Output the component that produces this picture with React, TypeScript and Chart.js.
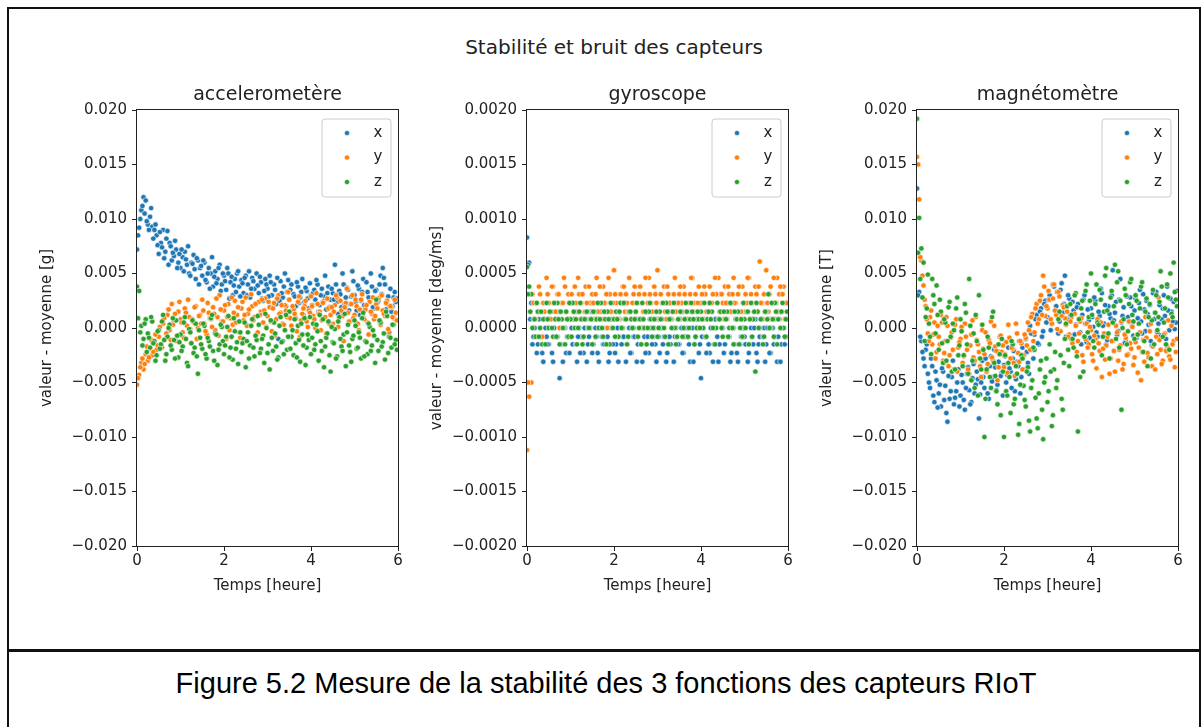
import React, { useEffect, useRef } from 'react';
import { Chart, registerables } from 'chart.js';

Chart.register(...registerables);

// ---------- data ----------
// two interleaved sampling grids (hours)
const timesA = [
  0, 0.05, 0.1, 0.15, 0.2, 0.25, 0.3, 0.35, 0.4, 0.45,
  0.5, 0.55, 0.6, 0.65, 0.7, 0.75, 0.8, 0.85, 0.9, 0.95,
  1, 1.05, 1.1, 1.15, 1.2, 1.25, 1.3, 1.35, 1.4, 1.45,
  1.5, 1.55, 1.6, 1.65, 1.7, 1.75, 1.8, 1.85, 1.9, 1.95,
  2, 2.05, 2.1, 2.15, 2.2, 2.25, 2.3, 2.35, 2.4, 2.45,
  2.5, 2.55, 2.6, 2.65, 2.7, 2.75, 2.8, 2.85, 2.9, 2.95,
  3, 3.05, 3.1, 3.15, 3.2, 3.25, 3.3, 3.35, 3.4, 3.45,
  3.5, 3.55, 3.6, 3.65, 3.7, 3.75, 3.8, 3.85, 3.9, 3.95,
  4, 4.05, 4.1, 4.15, 4.2, 4.25, 4.3, 4.35, 4.4, 4.45,
  4.5, 4.55, 4.6, 4.65, 4.7, 4.75, 4.8, 4.85, 4.9, 4.95,
  5, 5.05, 5.1, 5.15, 5.2, 5.25, 5.3, 5.35, 5.4, 5.45,
  5.5, 5.55, 5.6, 5.65, 5.7, 5.75, 5.8, 5.85, 5.9, 5.95,
];
const timesB = [
  0.025, 0.075, 0.125, 0.175, 0.225, 0.275, 0.325, 0.375, 0.425, 0.475,
  0.525, 0.575, 0.625, 0.675, 0.725, 0.775, 0.825, 0.875, 0.925, 0.975,
  1.025, 1.075, 1.125, 1.175, 1.225, 1.275, 1.325, 1.375, 1.425, 1.475,
  1.525, 1.575, 1.625, 1.675, 1.725, 1.775, 1.825, 1.875, 1.925, 1.975,
  2.025, 2.075, 2.125, 2.175, 2.225, 2.275, 2.325, 2.375, 2.425, 2.475,
  2.525, 2.575, 2.625, 2.675, 2.725, 2.775, 2.825, 2.875, 2.925, 2.975,
  3.025, 3.075, 3.125, 3.175, 3.225, 3.275, 3.325, 3.375, 3.425, 3.475,
  3.525, 3.575, 3.625, 3.675, 3.725, 3.775, 3.825, 3.875, 3.925, 3.975,
  4.025, 4.075, 4.125, 4.175, 4.225, 4.275, 4.325, 4.375, 4.425, 4.475,
  4.525, 4.575, 4.625, 4.675, 4.725, 4.775, 4.825, 4.875, 4.925, 4.975,
  5.025, 5.075, 5.125, 5.175, 5.225, 5.275, 5.325, 5.375, 5.425, 5.475,
  5.525, 5.575, 5.625, 5.675, 5.725, 5.775, 5.825, 5.875, 5.925, 5.975,
];

// accelerometer [g]
const accelXa = [
  0.0072, 0.0092, 0.0108, 0.0120, 0.0117, 0.0095, 0.0102, 0.0093, 0.0090, 0.0085,
  0.0068, 0.0078, 0.0090, 0.0070, 0.0089, 0.0078, 0.0062, 0.0066, 0.0072, 0.0060,
  0.0055, 0.0065, 0.0070, 0.0058, 0.0050, 0.0060, 0.0067, 0.0045, 0.0062, 0.0055,
  0.0048, 0.0060, 0.0042, 0.0055, 0.0050, 0.0038, 0.0052, 0.0045, 0.0058, 0.0040,
  0.0048, 0.0035, 0.0050, 0.0042, 0.0030, 0.0045, 0.0050, 0.0038, 0.0044, 0.0032,
  0.0048, 0.0040, 0.0028, 0.0046, 0.0036, 0.0050, 0.0032, 0.0042, 0.0025, 0.0045,
  0.0036, 0.0048, 0.0030, 0.0040, 0.0022, -0.0010, 0.0043, 0.0028, 0.0050, 0.0033,
  0.0026, 0.0040, 0.0031, 0.0020, 0.0038, 0.0028, 0.0045, 0.0024, 0.0034, 0.0018,
  0.0030, 0.0032, 0.0026, 0.0040, 0.0021, 0.0036, 0.0029, 0.0017, 0.0038, 0.0026,
  0.0032, 0.0058, 0.0024, 0.0034, 0.0019, 0.0040, 0.0028, 0.0035, 0.0022, 0.0052,
  0.0030, 0.0016, 0.0036, 0.0025, 0.0045, 0.0020, 0.0033, 0.0027, 0.0038, 0.0018,
  0.0035, 0.0025, 0.0048, 0.0055, 0.0040, 0.0022, -0.0008, 0.0015, 0.0028, 0.0024,
];
const accelXb = [
  0.0085, 0.0100, 0.0112, 0.0105, 0.0098, 0.0090, 0.0110, 0.0082, 0.0095, 0.0076,
  0.0088, 0.0074, 0.0064, 0.0082, 0.0058, 0.0075, 0.0069, 0.0080, 0.0055, 0.0068,
  0.0072, 0.0052, 0.0063, 0.0075, 0.0048, 0.0059, 0.0054, 0.0064, 0.0040, 0.0057,
  0.0062, 0.0044, 0.0050, 0.0036, 0.0065, 0.0047, 0.0041, 0.0055, 0.0034, 0.0050,
  0.0043, 0.0055, 0.0027, 0.0047, 0.0039, 0.0033, 0.0052, 0.0029, 0.0041, 0.0046,
  0.0030, 0.0052, 0.0036, 0.0043, 0.0022, 0.0039, 0.0047, 0.0027, 0.0034, 0.0040,
  0.0029, 0.0042, 0.0019, 0.0035, 0.0046, 0.0025, 0.0032, 0.0038, 0.0020, 0.0044,
  0.0035, 0.0016, 0.0029, 0.0042, 0.0023, 0.0033, 0.0012, 0.0037, 0.0027, 0.0041,
  0.0021, 0.0035, 0.0044, 0.0015, 0.0030, 0.0024, 0.0048, 0.0032, 0.0019, 0.0036,
  0.0026, 0.0040, 0.0013, 0.0031, 0.0050, 0.0022, 0.0037, 0.0016, 0.0029, 0.0043,
  0.0024, 0.0039, 0.0012, 0.0033, 0.0021, 0.0042, 0.0028, 0.0050, 0.0019, 0.0034,
  0.0023, 0.0040, 0.0031, 0.0046, 0.0017, 0.0029, 0.0036, 0.0020, 0.0033, 0.0027,
];
const accelYa = [
  -0.0052, -0.0043, -0.0032, -0.0038, -0.0024, -0.0030, -0.0019, -0.0025, -0.0014, -0.0020,
  -0.0008, -0.0015, 0.0004, -0.0010, 0.0012, -0.0002, 0.0022, 0.0006, -0.0012, 0.0015,
  0.0008, -0.0004, 0.0018, 0.0002, 0.0010, -0.0014, 0.0005, 0.0020, 0.0000, 0.0012,
  0.0026, 0.0004, -0.0006, 0.0014, 0.0008, 0.0019, -0.0002, 0.0010, 0.0030, 0.0006,
  0.0016, -0.0010, 0.0022, 0.0009, 0.0003, 0.0025, 0.0012, -0.0004, 0.0018, 0.0007,
  0.0028, 0.0013, 0.0002, 0.0020, 0.0010, -0.0006, 0.0024, 0.0015, 0.0005, 0.0027,
  0.0011, 0.0019, -0.0003, 0.0023, 0.0008, 0.0030, 0.0014, 0.0004, 0.0021, 0.0010,
  0.0026, 0.0002, 0.0017, 0.0009, 0.0024, -0.0008, 0.0013, 0.0020, 0.0006, 0.0016,
  0.0029, 0.0011, 0.0000, 0.0022, 0.0015, 0.0007, 0.0025, -0.0005, 0.0018, 0.0012,
  0.0004, 0.0021, 0.0028, 0.0009, 0.0016, -0.0012, 0.0023, 0.0014, 0.0006, 0.0030,
  0.0012, 0.0020, -0.0002, 0.0026, 0.0010, 0.0017, 0.0005, 0.0024, 0.0013, 0.0008,
  0.0022, 0.0027, 0.0003, 0.0016, 0.0011, 0.0025, -0.0004, 0.0019, 0.0009, 0.0014,
];
const accelYb = [
  -0.0046, -0.0036, -0.0028, -0.0033, -0.0017, -0.0027, -0.0011, -0.0022, -0.0006, -0.0016,
  0.0001, -0.0018, 0.0009, -0.0005, 0.0017, -0.0011, 0.0003, 0.0013, -0.0007, 0.0024,
  0.0005, -0.0009, 0.0014, 0.0026, -0.0001, 0.0008, 0.0019, -0.0010, 0.0011, 0.0004,
  0.0016, -0.0003, 0.0023, 0.0009, 0.0001, 0.0013, 0.0027, -0.0007, 0.0017, 0.0006,
  0.0021, 0.0010, -0.0002, 0.0028, 0.0014, 0.0005, 0.0019, -0.0009, 0.0024, 0.0012,
  0.0002, 0.0017, 0.0031, 0.0007, 0.0022, -0.0004, 0.0012, 0.0026, 0.0016, 0.0001,
  0.0024, 0.0006, 0.0018, -0.0007, 0.0027, 0.0013, 0.0021, 0.0003, 0.0016, 0.0033,
  0.0009, 0.0020, 0.0013, -0.0003, 0.0029, 0.0007, 0.0018, 0.0025, 0.0001, 0.0014,
  0.0020, 0.0008, 0.0032, 0.0013, -0.0002, 0.0023, 0.0010, 0.0027, 0.0004, 0.0019,
  0.0015, 0.0030, 0.0001, 0.0025, 0.0011, 0.0019, 0.0036, 0.0006, 0.0022, 0.0009,
  0.0026, 0.0004, 0.0017, 0.0031, 0.0008, 0.0021, -0.0006, 0.0015, 0.0028, 0.0011,
  0.0018, 0.0006, 0.0030, 0.0013, 0.0023, -0.0001, 0.0020, 0.0010, 0.0026, 0.0007,
];
const accelZa = [
  0.0038, 0.0034, 0.0002, -0.0010, 0.0008, -0.0005, -0.0018, 0.0006, -0.0012, -0.0025,
  -0.0002, -0.0015, 0.0012, -0.0030, -0.0008, 0.0003, -0.0020, -0.0011, 0.0007, -0.0027,
  -0.0006, -0.0017, 0.0010, -0.0032, -0.0001, -0.0014, -0.0023, 0.0004, -0.0042, -0.0009,
  -0.0019, 0.0002, -0.0028, -0.0012, 0.0009, -0.0021, -0.0005, -0.0034, -0.0015, 0.0001,
  -0.0024, -0.0008, 0.0011, -0.0018, -0.0029, -0.0003, -0.0013, 0.0006, -0.0022, -0.0010,
  -0.0036, -0.0004, -0.0016, 0.0008, -0.0026, -0.0011, 0.0003, -0.0019, -0.0007, 0.0013,
  -0.0023, -0.0038, -0.0009, 0.0005, -0.0017, -0.0027, 0.0010, -0.0012, -0.0002, -0.0020,
  0.0015, -0.0008, -0.0025, -0.0014, 0.0002, -0.0031, -0.0006, 0.0009, -0.0018, -0.0011,
  -0.0024, 0.0004, -0.0015, -0.0003, 0.0012, -0.0021, -0.0036, -0.0009, 0.0006, -0.0040,
  -0.0013, -0.0001, -0.0026, 0.0010, -0.0017, -0.0006, -0.0035, 0.0003, -0.0022, -0.0010,
  0.0007, -0.0019, -0.0004, -0.0028, 0.0014, -0.0012, -0.0024, 0.0001, -0.0016, -0.0007,
  0.0026, -0.0021, 0.0005, -0.0013, -0.0029, 0.0011, -0.0008, -0.0018, 0.0003, -0.0011,
];
const accelZb = [
  0.0009, -0.0004, -0.0016, 0.0004, -0.0022, -0.0009, 0.0010, -0.0014, -0.0030, -0.0003,
  -0.0019, 0.0006, -0.0011, -0.0024, 0.0000, -0.0016, 0.0009, -0.0028, -0.0007, -0.0013,
  -0.0021, 0.0005, -0.0010, -0.0035, -0.0004, 0.0007, -0.0018, -0.0026, -0.0002, -0.0015,
  0.0004, -0.0024, -0.0009, -0.0017, 0.0012, -0.0030, -0.0006, -0.0020, 0.0003, -0.0012,
  -0.0016, 0.0001, -0.0027, -0.0008, 0.0009, -0.0019, -0.0033, -0.0004, -0.0014, 0.0005,
  -0.0012, -0.0028, 0.0002, -0.0018, -0.0007, 0.0011, -0.0023, -0.0010, -0.0032, 0.0000,
  -0.0015, 0.0007, -0.0021, -0.0005, -0.0029, 0.0002, -0.0013, -0.0024, 0.0012, -0.0008,
  -0.0019, -0.0002, 0.0008, -0.0027, -0.0011, 0.0004, -0.0016, -0.0034, -0.0006, 0.0010,
  -0.0009, -0.0020, 0.0003, -0.0030, -0.0012, 0.0008, -0.0017, -0.0005, -0.0025, 0.0001,
  -0.0014, -0.0028, 0.0006, -0.0010, -0.0021, 0.0013, -0.0004, -0.0016, -0.0031, -0.0007,
  0.0002, -0.0018, -0.0009, 0.0009, -0.0026, -0.0013, 0.0004, -0.0021, -0.0002, -0.0032,
  -0.0011, 0.0007, -0.0017, -0.0005, 0.0015, -0.0023, -0.0009, 0.0003, -0.0015, -0.0020,
];

// gyroscope [deg/ms]
const gyroXa = [
  0.00083, 0.00060, 0.00023, -0.00008, 0.00008, -0.00015, 0, -0.00023, 0.00008, -0.00008,
  -0.00015, 0, -0.00031, 0.00008, -0.00008, -0.00046, -0.00015, 0, -0.00023, 0.00008,
  -0.00008, -0.00015, 0.00015, -0.00031, 0, -0.00008, -0.00023, 0.00008, -0.00015, 0,
  -0.00023, 0.00008, -0.00008, -0.00031, 0, -0.00015, 0.00015, -0.00008, -0.00023, 0,
  0.00008, -0.00015, -0.00031, 0, -0.00008, 0.00023, -0.00015, 0, -0.00023, -0.00008,
  0.00008, -0.00015, 0, -0.00031, -0.00008, 0.00015, -0.00023, 0, -0.00008, -0.00015,
  0.00008, -0.00023, 0, -0.00008, -0.00031, 0.00015, -0.00015, 0, -0.00008, 0.00023,
  -0.00015, 0, -0.00023, 0.00008, -0.00008, -0.00031, 0, -0.00015, 0.00008, -0.00023,
  -0.00046, 0, -0.00008, 0.00015, -0.00023, 0, -0.00015, 0.00008, -0.00031, 0.00031,
  0, -0.00015, 0.00023, -0.00008, -0.00023, 0, 0.00008, -0.00031, -0.00015, 0,
  -0.00008, 0.00015, -0.00023, 0, -0.00015, 0.00008, -0.00031, -0.00008, 0.00023, 0,
  -0.00015, 0.00008, -0.00023, 0, -0.00008, -0.00031, 0.00015, -0.00015, 0, -0.00008,
];
const gyroXb = [
  0.00058, 0.00008, -0.00015, 0, -0.00023, 0.00008, -0.00008, -0.00031, 0, -0.00015,
  0.00008, -0.00023, 0, -0.00008, 0.00015, -0.00015, -0.00031, 0, -0.00008, -0.00023,
  0, 0.00008, -0.00015, -0.00008, -0.00023, 0.00008, 0, -0.00031, -0.00008, 0.00015,
  -0.00015, 0, -0.00023, 0.00008, -0.00008, -0.00015, 0, -0.00031, 0.00008, -0.00015,
  -0.00023, 0, 0.00008, -0.00015, -0.00008, -0.00031, 0.00015, -0.00023, 0, -0.00008,
  -0.00031, 0.00008, -0.00015, 0, -0.00023, -0.00008, 0.00008, -0.00015, 0, -0.00031,
  -0.00008, 0, -0.00015, 0.00023, -0.00023, -0.00008, 0.00008, -0.00031, 0, -0.00015,
  0.00008, -0.00023, -0.00008, 0, -0.00015, 0.00015, -0.00031, -0.00008, 0, -0.00015,
  -0.00008, 0.00008, -0.00023, -0.00015, 0, -0.00031, 0.00008, -0.00008, -0.00015, 0,
  -0.00023, 0.00008, -0.00008, -0.00031, 0, -0.00015, -0.00023, 0.00015, -0.00008, 0,
  -0.00015, -0.00031, 0.00008, -0.00008, 0, -0.00023, -0.00015, 0.00008, -0.00008, -0.00031,
  0, -0.00023, 0.00008, -0.00015, 0.00023, -0.00008, -0.00031, 0, -0.00015, 0.00008,
];
const gyroYa = [
  -0.00112, -0.00063, -0.00050, 0.00023, 0.00008, 0.00015, 0.00031, -0.00008, 0.00015, 0.00046,
  0.00023, 0.00008, 0.00038, 0.00015, 0.00031, 0, 0.00023, 0.00046, 0.00015, 0.00031,
  0.00008, 0.00023, 0.00038, 0.00015, 0.00031, 0.00023, -0.00008, 0.00038, 0.00015, 0.00023,
  0.00031, 0.00008, 0.00046, 0.00023, 0.00015, 0.00038, 0.00023, 0, 0.00031, 0.00015,
  0.00053, 0.00023, 0.00008, 0.00031, 0.00038, 0.00015, 0.00023, 0.00046, 0.00008, 0.00031,
  0.00015, 0.00023, 0.00038, 0, 0.00031, 0.00015, 0.00046, 0.00023, 0.00008, 0.00031,
  0.00053, 0.00015, 0.00023, 0.00038, 0.00008, 0.00031, 0.00023, 0.00015, 0.00046, -0.00008,
  0.00031, 0.00023, 0.00038, 0.00015, 0.00008, 0.00031, 0.00046, 0.00023, 0.00015, 0.00038,
  0.00023, 0.00008, 0.00031, 0.00015, 0.00038, 0.00023, 0, 0.00031, 0.00046, 0.00015,
  0.00023, 0.00038, 0.00008, 0.00031, 0.00015, 0.00046, 0.00023, 0.00031, 0.00008, 0.00038,
  0.00015, 0.00023, 0.00046, 0.00031, 0.00008, 0.00038, 0.00015, 0.00061, 0.00023, 0.00031,
  0.00053, 0.00015, 0.00038, 0.00023, 0.00008, 0.00046, 0.00031, 0.00015, 0.00038, 0.00023,
];
const gyroYb = [
  -0.00050, 0.00015, 0.00031, 0.00008, 0.00023, 0.00038, 0.00015, 0.00023, 0.00008, 0.00031,
  0.00015, 0.00038, 0.00023, 0.00008, 0.00031, 0.00015, 0.00023, 0.00038, 0.00008, 0.00023,
  0.00031, 0.00015, 0.00023, 0.00046, 0.00008, 0.00031, 0.00015, 0.00023, 0.00038, 0.00008,
  0.00023, 0.00031, 0.00015, 0.00038, 0.00008, 0.00023, 0.00031, 0.00046, 0.00015, 0.00023,
  0.00031, 0.00008, 0.00015, 0.00023, 0.00038, 0.00031, 0.00015, 0.00008, 0.00023, 0.00038,
  0.00023, 0.00031, 0.00008, 0.00015, 0.00046, 0.00023, 0.00031, 0.00015, 0.00038, 0.00023,
  0.00008, 0.00031, 0.00023, 0.00015, 0.00038, 0.00023, 0.00008, 0.00031, 0.00015, 0.00023,
  0.00038, 0.00015, 0.00031, 0.00008, 0.00023, 0.00046, 0.00015, 0.00031, 0.00023, 0.00008,
  0.00031, 0.00038, 0.00015, 0.00023, 0.00008, 0.00031, 0.00046, 0.00023, 0.00015, 0.00031,
  0.00008, 0.00023, 0.00038, 0.00015, 0.00031, 0.00023, 0.00008, 0.00038, 0.00015, 0.00023,
  0.00031, 0.00046, 0.00008, 0.00023, 0.00015, 0.00031, 0.00038, 0.00023, 0.00008, 0.00015,
  0.00023, 0.00031, 0.00008, 0.00046, 0.00023, 0.00015, 0.00038, 0.00031, 0.00008, 0.00023,
];
const gyroZa = [
  0.00056, 0.00038, 0.00031, 0.00008, -0.00008, 0.00015, 0, -0.00015, 0.00008, 0.00023,
  0, 0.00015, -0.00008, 0.00008, 0.00023, -0.00015, 0.00008, 0, 0.00015, -0.00008,
  0.00008, 0.00023, 0, -0.00015, 0.00015, 0.00008, -0.00008, 0.00015, 0, 0.00008,
  -0.00015, 0.00015, 0.00008, 0, 0.00023, -0.00008, 0.00008, 0.00015, -0.00015, 0,
  0.00008, 0.00015, -0.00008, 0.00023, 0, 0.00008, -0.00015, 0.00015, 0.00008, 0,
  0.00015, -0.00008, 0.00008, 0.00023, 0, -0.00015, 0.00015, 0.00008, 0, 0.00008,
  -0.00008, 0.00015, 0.00008, 0, 0.00023, -0.00015, 0.00008, 0.00015, 0, -0.00008,
  0.00008, 0.00015, 0, 0.00023, -0.00008, 0.00008, 0.00015, -0.00015, 0, 0.00008,
  0.00015, 0, -0.00008, 0.00008, 0.00023, 0.00015, -0.00015, 0, 0.00008, 0.00015,
  -0.00008, 0.00008, 0.00015, 0, 0.00023, -0.00015, 0.00008, 0.00015, 0, -0.00008,
  0.00008, 0.00015, -0.00015, 0.00023, 0.00008, -0.00040, 0.00015, 0, 0.00008, -0.00008,
  0.00015, 0.00031, 0, 0.00008, 0.00023, -0.00015, 0.00008, 0.00015, 0, 0.00008,
];
const gyroZb = [
  0.00031, 0.00015, 0, 0.00008, 0.00023, -0.00008, 0.00015, 0.00008, -0.00015, 0.00008,
  0.00015, 0, 0.00023, -0.00008, 0.00008, 0.00015, 0, -0.00015, 0.00008, 0.00023,
  -0.00008, 0.00015, 0.00008, 0, 0.00023, -0.00015, 0.00008, 0.00015, 0, 0.00008,
  0.00015, -0.00008, 0.00023, 0.00008, 0, 0.00015, -0.00015, 0.00008, 0.00023, 0,
  -0.00008, 0.00008, 0.00015, 0, 0.00023, 0.00008, -0.00008, 0.00015, 0, 0.00008,
  0.00023, 0, -0.00015, 0.00008, 0.00015, 0, 0.00023, -0.00008, 0.00008, 0.00015,
  0, 0.00008, 0.00023, -0.00008, 0.00015, 0.00008, 0, 0.00023, -0.00015, 0.00008,
  0.00015, -0.00008, 0.00008, 0.00015, 0, 0.00023, 0.00008, -0.00008, 0.00015, 0,
  0.00008, 0.00023, -0.00008, 0.00015, 0.00008, 0, -0.00015, 0.00023, 0.00008, 0,
  0.00015, 0.00008, -0.00008, 0.00023, 0, 0.00015, 0.00008, -0.00015, 0.00008, 0.00023,
  0, 0.00015, 0.00008, -0.00008, 0.00015, 0.00023, 0, 0.00008, -0.00015, 0.00015,
  0.00008, 0, 0.00023, -0.00008, 0.00015, 0.00008, 0, 0.00023, -0.00008, 0.00015,
];

// magnetometer [T]
const magXa = [
  0.0128, 0.0033, -0.0012, -0.0028, -0.0020, -0.0042, -0.0055, -0.0035, -0.0068, -0.0048,
  -0.0060, -0.0072, -0.0040, -0.0053, -0.0086, -0.0065, -0.0045, -0.0070, -0.0058, -0.0038,
  -0.0062, -0.0050, -0.0075, -0.0042, -0.0057, -0.0068, -0.0033, -0.0052, -0.0047, -0.0061,
  -0.0030, -0.0055, -0.0040, -0.0065, -0.0026, -0.0045, -0.0036, -0.0052, -0.0022, -0.0041,
  -0.0034, -0.0050, -0.0018, -0.0040, -0.0028, -0.0058, -0.0031, -0.0012, -0.0045, -0.0025,
  -0.0010, -0.0032, 0.0002, -0.0020, -0.0006, 0.0012, -0.0015, 0.0018, -0.0003, 0.0025,
  0.0010, 0.0030, 0.0004, 0.0038, 0.0020, -0.0005, 0.0035, 0.0014, 0.0048, 0.0008,
  0.0027, -0.0010, 0.0016, 0.0003, 0.0022, -0.0004, 0.0012, 0.0030, -0.0013, 0.0007,
  0.0018, 0.0001, 0.0025, -0.0008, 0.0011, 0.0032, 0.0004, -0.0015, 0.0020, 0.0009,
  0.0053, 0.0014, -0.0006, 0.0026, 0.0005, 0.0019, -0.0012, 0.0010, 0.0028, 0.0002,
  0.0016, -0.0009, 0.0023, 0.0006, 0.0031, -0.0003, 0.0013, 0.0021, -0.0016, 0.0008,
  0.0033, 0.0004, -0.0007, 0.0018, 0.0011, 0.0038, -0.0002, 0.0015, 0.0024, 0.0005,
];
const magXb = [
  0.0030, -0.0008, -0.0022, -0.0035, -0.0015, -0.0050, -0.0028, -0.0062, -0.0040, -0.0073,
  -0.0052, -0.0037, -0.0066, -0.0078, -0.0044, -0.0058, -0.0030, -0.0064, -0.0050, -0.0072,
  -0.0043, -0.0066, -0.0055, -0.0036, -0.0070, -0.0046, -0.0060, -0.0040, -0.0083, -0.0050,
  -0.0045, -0.0028, -0.0060, -0.0035, -0.0049, -0.0020, -0.0057, -0.0031, -0.0044, -0.0062,
  -0.0026, -0.0043, -0.0037, -0.0055, -0.0021, -0.0047, -0.0035, -0.0060, -0.0018, -0.0038,
  -0.0022, -0.0042, -0.0005, -0.0028, 0.0008, -0.0014, 0.0015, -0.0008, 0.0022, 0.0005,
  0.0026, -0.0002, 0.0040, 0.0016, 0.0033, 0.0006, 0.0041, 0.0022, -0.0008, 0.0030,
  0.0012, 0.0024, -0.0006, 0.0019, 0.0008, -0.0015, 0.0026, 0.0004, 0.0017, -0.0009,
  0.0010, 0.0028, -0.0004, 0.0015, 0.0036, 0.0002, 0.0021, -0.0011, 0.0013, 0.0030,
  0.0007, 0.0024, -0.0003, 0.0045, 0.0011, -0.0014, 0.0029, 0.0006, 0.0020, -0.0007,
  0.0027, 0.0009, 0.0035, -0.0005, 0.0017, 0.0025, 0.0003, -0.0012, 0.0032, 0.0014,
  -0.0004, 0.0021, 0.0008, 0.0030, -0.0010, 0.0016, 0.0027, 0.0006, -0.0001, 0.0034,
];
const magYa = [
  0.0157, 0.0118, 0.0062, 0.0039, 0.0020, -0.0005, 0.0010, -0.0015, 0.0005, -0.0022,
  -0.0008, 0.0012, -0.0030, -0.0012, 0.0002, -0.0025, -0.0004, -0.0038, 0.0008, -0.0018,
  -0.0010, -0.0032, 0.0004, -0.0020, -0.0042, -0.0006, -0.0027, 0.0010, -0.0015, -0.0035,
  -0.0002, -0.0024, -0.0040, -0.0011, 0.0006, -0.0030, -0.0017, -0.0048, -0.0008, -0.0022,
  -0.0036, -0.0013, 0.0003, -0.0028, -0.0019, -0.0044, -0.0005, -0.0031, -0.0014, -0.0025,
  -0.0009, 0.0005, -0.0020, 0.0013, -0.0004, 0.0022, 0.0008, 0.0030, 0.0048, 0.0011,
  0.0018, 0.0026, 0.0004, 0.0040, 0.0012, 0.0033, -0.0003, 0.0021, 0.0009, 0.0015,
  -0.0006, 0.0010, -0.0018, 0.0002, -0.0012, 0.0006, -0.0025, -0.0008, 0.0004, -0.0015,
  -0.0002, -0.0030, -0.0010, 0.0008, -0.0021, -0.0045, -0.0005, -0.0016, 0.0003, -0.0028,
  -0.0012, -0.0040, -0.0004, -0.0020, 0.0006, -0.0033, -0.0009, -0.0024, -0.0014, 0.0001,
  -0.0027, -0.0007, -0.0018, -0.0048, -0.0011, 0.0010, -0.0023, -0.0003, -0.0035, -0.0015,
  -0.0008, 0.0028, -0.0020, -0.0030, -0.0005, -0.0017, -0.0026, 0.0002, -0.0012, -0.0022,
];
const magYb = [
  0.0150, 0.0065, 0.0048, 0.0026, 0.0008, -0.0012, 0.0016, -0.0006, -0.0028, 0.0002,
  -0.0015, 0.0005, -0.0023, 0.0010, -0.0035, -0.0009, -0.0020, 0.0003, -0.0040, -0.0013,
  0.0001, -0.0026, -0.0008, -0.0038, -0.0016, 0.0007, -0.0030, -0.0011, -0.0022, -0.0045,
  -0.0019, -0.0004, -0.0033, -0.0014, -0.0027, 0.0002, -0.0021, -0.0036, -0.0007, -0.0016,
  -0.0024, -0.0041, -0.0009, -0.0018, -0.0032, 0.0004, -0.0023, -0.0012, -0.0038, -0.0006,
  -0.0016, -0.0002, 0.0010, -0.0012, 0.0018, 0.0004, 0.0025, 0.0012, 0.0038, 0.0020,
  0.0034, 0.0008, 0.0027, 0.0016, -0.0001, 0.0029, 0.0011, 0.0019, 0.0003, -0.0008,
  0.0006, -0.0014, 0.0013, -0.0022, -0.0005, 0.0009, -0.0031, -0.0010, -0.0018, 0.0001,
  -0.0024, -0.0007, -0.0037, -0.0014, 0.0005, -0.0019, -0.0029, -0.0008, -0.0042, -0.0012,
  -0.0021, 0.0002, -0.0030, -0.0016, -0.0038, -0.0006, -0.0025, 0.0006, -0.0019, -0.0034,
  -0.0013, -0.0041, -0.0004, -0.0022, -0.0031, -0.0009, -0.0027, 0.0004, -0.0017, -0.0038,
  -0.0024, -0.0011, -0.0033, -0.0006, -0.0021, 0.0007, -0.0029, -0.0015, -0.0036, -0.0010,
];
const magZa = [
  0.0192, 0.0101, 0.0073, 0.0060, 0.0010, 0.0049, -0.0008, 0.0045, 0.0022, 0.0039,
  -0.0020, 0.0015, -0.0032, 0.0005, -0.0012, 0.0024, -0.0040, -0.0002, 0.0018, -0.0025,
  0.0008, -0.0035, 0.0022, -0.0015, 0.0045, -0.0048, -0.0005, 0.0012, -0.0062, -0.0028,
  0.0003, -0.0100, -0.0038, -0.0018, -0.0055, 0.0015, -0.0044, -0.0070, -0.0024, -0.0010,
  -0.0100, -0.0058, -0.0032, -0.0078, -0.0015, -0.0065, -0.0042, -0.0088, -0.0025, -0.0053,
  -0.0072, -0.0036, -0.0095, -0.0048, -0.0020, -0.0083, -0.0060, -0.0030, -0.0102, -0.0045,
  -0.0068, -0.0015, -0.0090, -0.0038, -0.0055, 0.0008, -0.0025, -0.0075, -0.0010, 0.0020,
  -0.0035, 0.0012, -0.0018, 0.0032, -0.0095, -0.0045, 0.0025, -0.0008, 0.0040, 0.0010,
  0.0050, -0.0012, 0.0022, 0.0005, 0.0035, -0.0025, 0.0015, 0.0055, -0.0005, 0.0028,
  0.0005, 0.0058, 0.0042, -0.0018, -0.0075, 0.0008, 0.0030, -0.0003, 0.0042, 0.0012,
  -0.0010, 0.0025, 0.0004, 0.0038, -0.0022, 0.0015, -0.0035, 0.0022, 0.0007, -0.0015,
  0.0030, 0.0010, 0.0052, -0.0008, 0.0018, 0.0040, -0.0020, 0.0013, 0.0060, 0.0026,
];
const magZb = [
  0.0069, 0.0045, 0.0028, -0.0012, 0.0018, 0.0004, -0.0024, 0.0030, -0.0005, 0.0012,
  0.0026, -0.0014, 0.0008, -0.0030, 0.0019, -0.0008, 0.0004, -0.0038, 0.0028, -0.0016,
  -0.0003, -0.0025, 0.0014, -0.0042, 0.0002, -0.0030, -0.0055, -0.0012, 0.0030, -0.0038,
  -0.0020, -0.0065, -0.0008, -0.0045, 0.0010, -0.0032, -0.0058, -0.0015, -0.0080, -0.0040,
  -0.0025, -0.0062, -0.0045, -0.0012, -0.0070, -0.0035, -0.0098, -0.0052, -0.0028, -0.0066,
  -0.0040, -0.0085, -0.0055, -0.0018, -0.0064, -0.0092, -0.0038, -0.0075, -0.0050, -0.0028,
  -0.0058, -0.0040, -0.0080, -0.0022, -0.0048, 0.0015, -0.0065, -0.0032, 0.0004, -0.0020,
  0.0022, -0.0010, 0.0030, -0.0026, 0.0008, 0.0018, -0.0040, 0.0034, -0.0004, 0.0025,
  0.0012, -0.0018, 0.0040, 0.0003, 0.0026, -0.0008, 0.0048, 0.0016, -0.0028, 0.0034,
  0.0020, -0.0010, 0.0052, 0.0025, 0.0000, 0.0036, -0.0015, 0.0022, 0.0045, 0.0006,
  0.0030, -0.0006, 0.0018, 0.0042, -0.0012, 0.0027, 0.0010, -0.0028, 0.0035, 0.0014,
  -0.0002, 0.0024, 0.0038, 0.0005, -0.0015, 0.0028, 0.0050, 0.0010, 0.0033, 0.0020,
];

const seriesNames = ['x', 'y', 'z'];
const seriesColors = ['#1f77b4', '#ff7f0e', '#2ca02c'];
const panelTitles = ['accelerometère', 'gyroscope', 'magnétomètre'];
const yAxisLabels = ['valeur - moyenne [g]', 'valeur - moyenne [deg/ms]', 'valeur - moyenne [T]'];
const xAxisLabel = 'Temps [heure]';
const xTickValues = [0, 2, 4, 6];
const accelTicks = [-0.02, -0.015, -0.01, -0.005, 0, 0.005, 0.01, 0.015, 0.02];
const gyroTicks = [-0.002, -0.0015, -0.001, -0.0005, 0, 0.0005, 0.001, 0.0015, 0.002];
const magTicks = [-0.02, -0.015, -0.01, -0.005, 0, 0.005, 0.01, 0.015, 0.02];
const tickDecimals = [3, 4, 3];
const suptitle = 'Stabilité et bruit des capteurs';
const caption = 'Figure 5.2 Mesure de la stabilité des 3 fonctions des capteurs RIoT';

const panelSeries = [
  [[accelXa, accelXb], [accelYa, accelYb], [accelZa, accelZb]],
  [[gyroXa, gyroXb], [gyroYa, gyroYb], [gyroZa, gyroZb]],
  [[magXa, magXb], [magYa, magYb], [magZa, magZb]],
];
const panelTicks = [accelTicks, gyroTicks, magTicks];

// ---------- layout ----------
const FONT = '"DejaVu Sans", sans-serif';
const TEXT = '#222222';
const LEFT_SPACE = 110;
const RIGHT_SPACE = 14;
const TOP_SPACE = 40;
const X_AXIS_H = 64;
const CANVAS_W = LEFT_SPACE + 261 + RIGHT_SPACE;
const CANVAS_H = TOP_SPACE + 436 + X_AXIS_H;
const plotLefts = [137, 527, 917];

const panelDecor = {
  id: 'panelDecor',
  afterDraw(chart: any, _args: any, opts: any) {
    const { ctx, chartArea: a } = chart;
    ctx.save();
    ctx.strokeStyle = TEXT;
    ctx.lineWidth = 1;
    ctx.strokeRect(Math.round(a.left) - 0.5, Math.round(a.top) - 0.5, Math.round(a.right - a.left) + 1, Math.round(a.bottom - a.top) + 1);
    ctx.fillStyle = TEXT;
    ctx.font = '19px ' + FONT;
    ctx.textAlign = 'center';
    ctx.textBaseline = 'alphabetic';
    ctx.fillText(opts.title, (a.left + a.right) / 2, a.top - 10);
    const bw = 69, bh = 78;
    const bx = a.right - 7 - bw, by = a.top + 9;
    const r = 3;
    ctx.beginPath();
    ctx.moveTo(bx + r, by);
    ctx.lineTo(bx + bw - r, by);
    ctx.quadraticCurveTo(bx + bw, by, bx + bw, by + r);
    ctx.lineTo(bx + bw, by + bh - r);
    ctx.quadraticCurveTo(bx + bw, by + bh, bx + bw - r, by + bh);
    ctx.lineTo(bx + r, by + bh);
    ctx.quadraticCurveTo(bx, by + bh, bx, by + bh - r);
    ctx.lineTo(bx, by + r);
    ctx.quadraticCurveTo(bx, by, bx + r, by);
    ctx.closePath();
    ctx.fillStyle = 'rgba(255,255,255,0.8)';
    ctx.fill();
    ctx.strokeStyle = '#cccccc';
    ctx.lineWidth = 1;
    ctx.stroke();
    seriesNames.forEach((name, s) => {
      const y = by + 14 + s * 24.5;
      ctx.beginPath();
      ctx.arc(bx + 25, y, 2.6, 0, Math.PI * 2);
      ctx.fillStyle = seriesColors[s];
      ctx.fill();
      ctx.strokeStyle = '#ffffff';
      ctx.lineWidth = 0.6;
      ctx.stroke();
      ctx.fillStyle = TEXT;
      ctx.font = '15px ' + FONT;
      ctx.textAlign = 'center';
      ctx.textBaseline = 'middle';
      ctx.fillText(name, bx + 56, y);
    });
    ctx.restore();
  },
};

function makeConfig(p: number): any {
  const ticks = panelTicks[p];
  const lim = ticks[ticks.length - 1];
  const dec = tickDecimals[p];
  const fmt = (v: number) => {
    const val = Math.abs(v) < lim * 1e-6 ? 0 : v;
    return val.toFixed(dec).replace('-', '\u2212');
  };
  const datasets = panelSeries[p].map(([va, vb], s) => ({
    label: seriesNames[s],
    data: va.map((v, i) => ({ x: timesA[i], y: v })).concat(vb.map((v, i) => ({ x: timesB[i], y: v }))),
    backgroundColor: seriesColors[s],
    borderColor: '#ffffff',
    borderWidth: 0.6,
    pointRadius: 2.7,
    pointHoverRadius: 2.7,
    order: 2 - s,
  }));
  const gridOpts = {
    display: true,
    drawOnChartArea: false,
    drawTicks: true,
    tickLength: 5,
    tickColor: TEXT,
    tickWidth: 1,
  };
  return {
    type: 'scatter',
    data: { datasets },
    plugins: [panelDecor],
    options: {
      animation: false,
      responsive: false,
      maintainAspectRatio: false,
      events: [],
      layout: { padding: { left: 0, right: RIGHT_SPACE, top: TOP_SPACE, bottom: 0 } },
      plugins: {
        legend: { display: false },
        tooltip: { enabled: false },
        title: { display: false },
        panelDecor: { title: panelTitles[p] },
      },
      scales: {
        x: {
          type: 'linear',
          position: 'bottom',
          min: 0,
          max: 6,
          afterBuildTicks: (s: any) => { s.ticks = xTickValues.map((v) => ({ value: v })); },
          afterFit: (s: any) => { s.height = X_AXIS_H; },
          ticks: { color: TEXT, font: { family: FONT, size: 15 }, padding: 1, maxRotation: 0, autoSkip: false, callback: (v: any) => String(v) },
          grid: gridOpts,
          border: { display: false },
          title: { display: true, text: xAxisLabel, color: TEXT, font: { family: FONT, size: 15 }, padding: { top: 0, bottom: 15 } },
        },
        y: {
          type: 'linear',
          position: 'left',
          min: -lim,
          max: lim,
          afterBuildTicks: (s: any) => { s.ticks = ticks.map((v) => ({ value: v })); },
          afterFit: (s: any) => { s.width = LEFT_SPACE; },
          ticks: { color: TEXT, font: { family: FONT, size: 15 }, padding: 5, autoSkip: false, callback: (v: any) => fmt(Number(v)) },
          grid: gridOpts,
          border: { display: false },
          title: { display: true, text: yAxisLabels[p], color: TEXT, font: { family: FONT, size: 15 }, padding: { top: 11, bottom: 0 } },
        },
      },
    },
  };
}

function Panel({ p }: { p: number }) {
  const ref = useRef<HTMLCanvasElement>(null);
  useEffect(() => {
    const chart = new Chart(ref.current as HTMLCanvasElement, makeConfig(p));
    return () => chart.destroy();
  }, [p]);
  return (
    <canvas
      ref={ref}
      width={CANVAS_W}
      height={CANVAS_H}
      style={{ position: 'absolute', left: plotLefts[p] - LEFT_SPACE, top: 70, width: CANVAS_W, height: CANVAS_H }}
    />
  );
}

export default function App() {
  return (
    <div style={{ position: 'absolute', left: 0, top: 0, width: 1204, height: 727, overflow: 'hidden', background: '#ffffff' }}>
      <div style={{ position: 'absolute', left: 7, top: 7, width: 1194, height: 800, border: '2px solid #111', boxSizing: 'border-box' }} />
      <div style={{ position: 'absolute', left: 7, top: 649, width: 1194, height: 3, background: '#111' }} />
      <div
        style={{
          position: 'absolute', left: 614, top: 35, transform: 'translateX(-50%)', whiteSpace: 'nowrap',
          fontFamily: FONT, fontSize: 20, lineHeight: 'normal', color: TEXT,
        }}
      >
        {suptitle}
      </div>
      {[0, 1, 2].map((p) => <Panel key={p} p={p} />)}
      <div
        style={{
          position: 'absolute', left: 606, top: 667, transform: 'translateX(-50%)', whiteSpace: 'nowrap',
          fontFamily: '"Liberation Sans", Arial, sans-serif', fontSize: 29, lineHeight: 'normal', color: '#000',
        }}
      >
        {caption}
      </div>
    </div>
  );
}
